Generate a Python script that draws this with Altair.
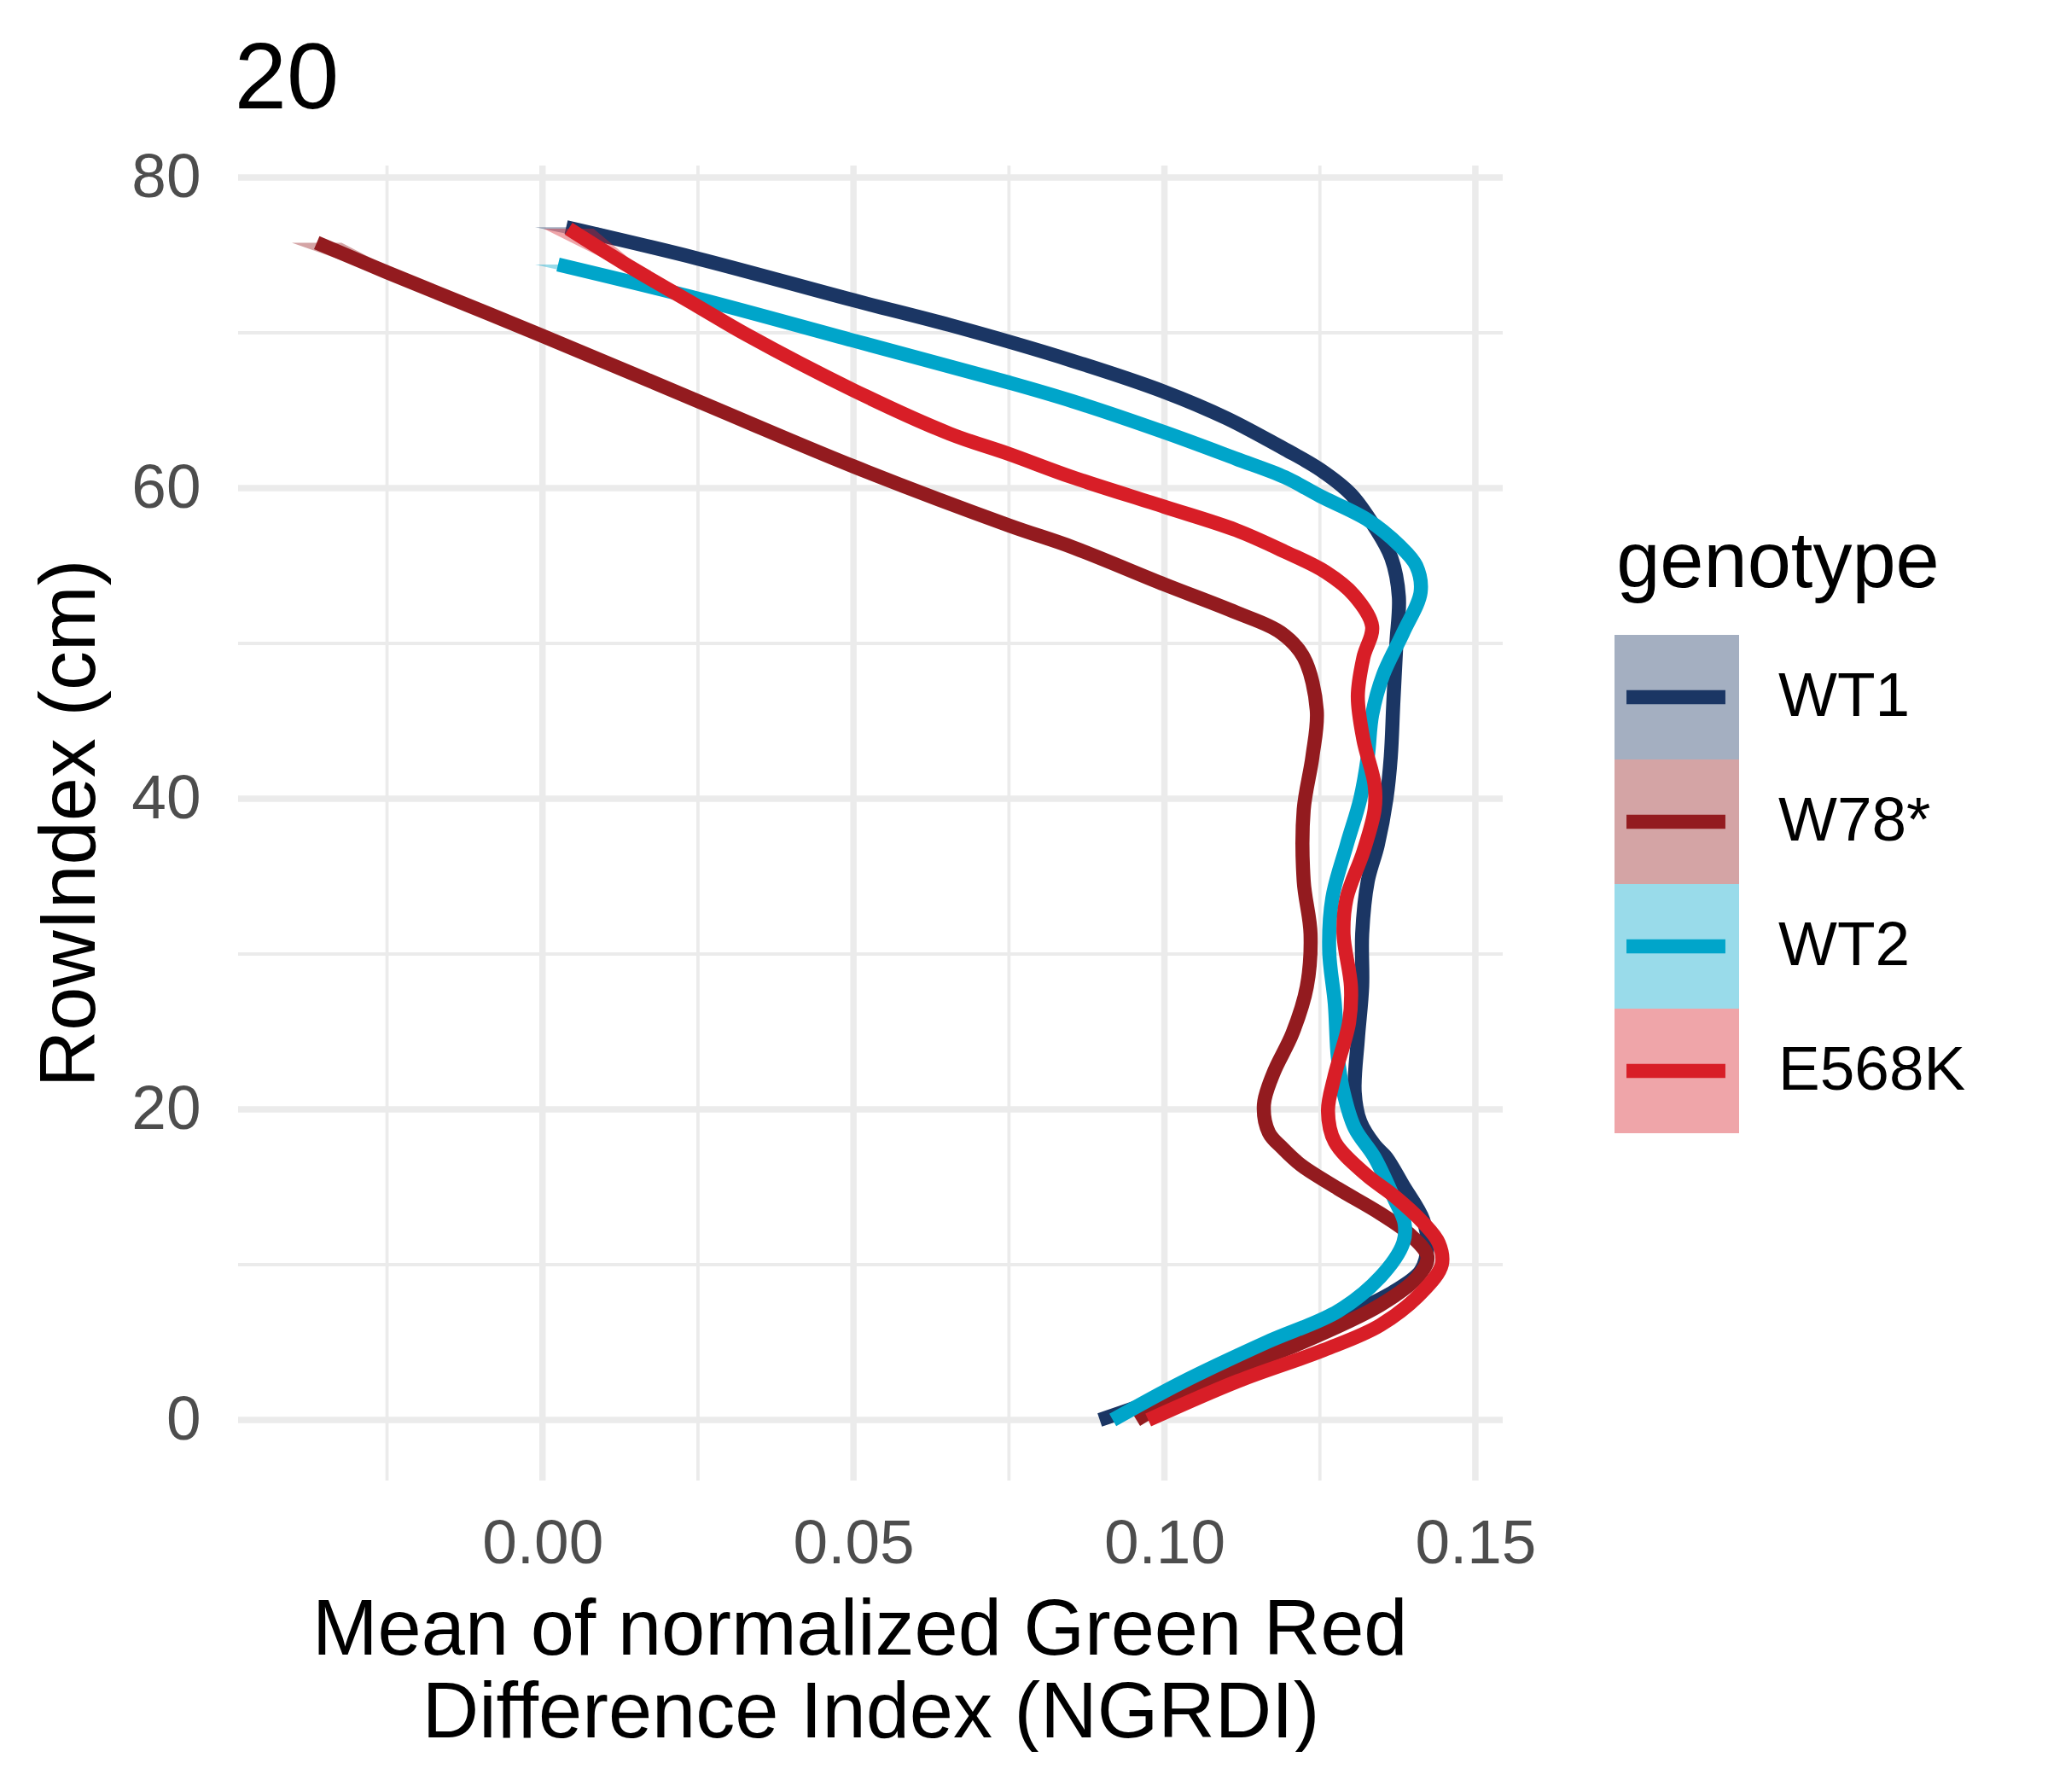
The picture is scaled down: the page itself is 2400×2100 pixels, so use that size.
import altair as alt
import pandas as pd

FONT = "Liberation Sans"

genotypes = ["WT1", "W78*", "WT2", "E568K"]
line_colors = ["#1B3664", "#931B1F", "#00A5CA", "#D81E27"]

# smoothed profiles (RowIndex in cm vs mean NGRDI), bottom to top
wt1_y = [0, 1.9, 4.5, 6.9, 8.3, 9.6, 11.2, 12.9, 15.1, 16.9, 17.7, 19.2, 21.1, 24.5, 27.9,
         31.3, 34.7, 37.0, 40.0, 42.7, 46.1, 50.0, 53.0, 55.5, 57.5, 59.6, 61.2, 62.5, 64.5,
         66.2, 68.2, 70.5, 72.1, 74.8, 76.8]
wt1_x = [0.0896, 0.1027, 0.1164, 0.1302, 0.1370, 0.1412, 0.1423, 0.1416, 0.1384, 0.1357,
         0.1338, 0.1315, 0.1306, 0.1311, 0.1318, 0.1318, 0.1327, 0.1343, 0.1357, 0.1364,
         0.1368, 0.1373, 0.1377, 0.1365, 0.1338, 0.1300, 0.1250, 0.1194, 0.1100, 0.1000,
         0.0852, 0.0655, 0.0500, 0.0248, 0.0038]

w78_y = [0, 2.7, 4.8, 7.4, 9.2, 10.5, 12.0, 13.3, 14.9, 16.4, 17.5, 18.5, 20.3, 22.3, 24.9,
         27.9, 31.3, 34.7, 39.3, 42.7, 45.7, 49.1, 50.7, 52.0, 53.8, 56.2, 57.6, 61.4, 65.6,
         69.8, 73.9, 75.8]
w78_x = [0.0955, 0.1075, 0.1210, 0.1347, 0.1407, 0.1423, 0.1393, 0.1347, 0.1279, 0.1220,
         0.1190, 0.1168, 0.1160, 0.1175, 0.1206, 0.1229, 0.1235, 0.1224, 0.1224, 0.1238,
         0.1245, 0.1224, 0.1187, 0.1115, 0.1000, 0.0852, 0.0750, 0.0500, 0.0250, 0.0000,
         -0.0250, -0.0363]

wt2_y = [0, 2.4, 5.0, 7.0, 9.2, 11.4, 12.7, 14.2, 16.9, 18.8, 21.1, 23.3, 26.8, 30.2, 33.6,
         37.0, 40.0, 42.7, 45.4, 48.0, 50.7, 53.3, 55.0, 56.3, 58.0, 59.5, 60.7, 61.9, 63.6,
         65.6, 66.8, 69.5, 72.2, 74.4]
wt2_x = [0.0917, 0.1027, 0.1164, 0.1279, 0.1347, 0.1384, 0.1386, 0.1370, 0.1338, 0.1306,
         0.1288, 0.1279, 0.1274, 0.1265, 0.1270, 0.1293, 0.1315, 0.1327, 0.1334, 0.1352,
         0.1384, 0.1412, 0.1405, 0.1378, 0.1325, 0.1250, 0.1194, 0.1115, 0.1000, 0.0852,
         0.0750, 0.0500, 0.0250, 0.0025]

e568k_y = [0, 2.5, 4.5, 6.1, 8.3, 10.0, 11.4, 12.7, 14.4, 15.8, 17.9, 19.9, 22.2, 25.6,
           27.9, 31.3, 33.6, 36.6, 39.3, 40.9, 43.8, 46.6, 49.1, 51.1, 53.1, 54.6, 55.9, 57.3,
           58.8, 60.7, 62.2, 63.5, 66.3, 69.9, 71.7, 74.5, 76.7]
e568k_x = [0.0974, 0.1118, 0.1256, 0.1347, 0.1416, 0.1446, 0.1441, 0.1416, 0.1370,
           0.1324, 0.1274, 0.1263, 0.1274, 0.1297, 0.1300, 0.1288, 0.1293, 0.1320, 0.1338,
           0.1338, 0.1320, 0.1311, 0.1320, 0.1334, 0.1305, 0.1259, 0.1194, 0.1115, 0.1000,
           0.0852, 0.0750, 0.0655, 0.0500, 0.0327, 0.0250, 0.0130, 0.0042]

# half-width of the confidence ribbon at the three topmost points (only visible there)
ribbon_se = {
    "WT1": [0.0008, 0.0018, 0.0050],
    "W78*": [0.0008, 0.0018, 0.0040],
    "WT2": [0.0008, 0.0015, 0.0037],
    "E568K": [0.0008, 0.0018, 0.0040],
}

series = {
    "WT1": (wt1_y, wt1_x),
    "W78*": (w78_y, w78_x),
    "WT2": (wt2_y, wt2_x),
    "E568K": (e568k_y, e568k_x),
}

x_major = [0.0, 0.05, 0.10, 0.15]
x_minor = [-0.025, 0.025, 0.075, 0.125]
y_major = [0, 20, 40, 60, 80]
y_minor = [10, 30, 50, 70]

W, H = 1482, 1541
x_scale = alt.Scale(domain=[-0.04895, 0.1544], nice=False, zero=False)
y_scale = alt.Scale(domain=[-3.9, 80.77], nice=False, zero=False)
color_scale = alt.Scale(domain=genotypes, range=line_colors)

x_axis = alt.Axis(values=x_major, format=".2f",
                  title=["Mean of normalized Green Red\u00a0\u200b", "Difference Index (NGRDI)"],
                  labelFontSize=73, titleFontSize=92, labelColor="#4D4D4D",
                  titleColor="black", labelFont=FONT, titleFont=FONT,
                  titleFontWeight="normal", labelPadding=38, titlePadding=19,
                  titleLineHeight=97, domain=False, ticks=False, grid=False)
y_axis = alt.Axis(values=y_major, format="d", title="RowIndex (cm)",
                  labelFontSize=73, titleFontSize=92, labelColor="#4D4D4D",
                  titleColor="black", labelFont=FONT, titleFont=FONT,
                  titleFontWeight="normal", labelPadding=44, titlePadding=24,
                  domain=False, ticks=False, grid=False)

GRID = "#EBEBEB"
layers = [
    alt.Chart(pd.DataFrame({"v": x_minor})).mark_rule(color=GRID, strokeWidth=3.8)
    .encode(x=alt.X("v:Q", scale=x_scale, axis=x_axis)),
    alt.Chart(pd.DataFrame({"v": y_minor})).mark_rule(color=GRID, strokeWidth=3.8)
    .encode(y=alt.Y("v:Q", scale=y_scale, axis=y_axis)),
    alt.Chart(pd.DataFrame({"v": x_major})).mark_rule(color=GRID, strokeWidth=7.5)
    .encode(x=alt.X("v:Q", scale=x_scale, axis=x_axis)),
    alt.Chart(pd.DataFrame({"v": y_major})).mark_rule(color=GRID, strokeWidth=7.5)
    .encode(y=alt.Y("v:Q", scale=y_scale, axis=y_axis)),
]

for g in genotypes:
    ys, xs = series[g]
    se = ribbon_se[g]
    rib = pd.DataFrame({
        "y": ys[-3:],
        "lo": [x - s for x, s in zip(xs[-3:], se)],
        "hi": [x + s for x, s in zip(xs[-3:], se)],
        "genotype": g,
    })
    layers.append(
        alt.Chart(rib).mark_area(orient="horizontal", opacity=0.4)
        .encode(y=alt.Y("y:Q", scale=y_scale, axis=y_axis),
                x=alt.X("lo:Q", scale=x_scale, axis=x_axis), x2="hi:Q",
                fill=alt.Fill("genotype:N", scale=color_scale, legend=None))
    )
    df = pd.DataFrame({"y": ys, "x": xs, "genotype": g})
    layers.append(
        alt.Chart(df).mark_line(strokeWidth=16.5, interpolate="catmull-rom", strokeCap="butt")
        .encode(y=alt.Y("y:Q", scale=y_scale, axis=y_axis),
                x=alt.X("x:Q", scale=x_scale, axis=x_axis),
                order=alt.Order("y:Q"),
                stroke=alt.Stroke("genotype:N", scale=color_scale, legend=None))
    )

main = alt.layer(*layers).properties(width=W, height=H)

# custom legend (key square with ribbon fill + line), units = key size
KEY = 146
LW = 420
leg_x = alt.Scale(domain=[0, LW / KEY], nice=False, zero=False)
leg_y = alt.Scale(domain=[-550 / KEY, (H - 550) / KEY], nice=False, zero=False, reverse=True)
leg_df = pd.DataFrame({"genotype": genotypes, "i": list(range(len(genotypes)))})

base = alt.Chart(leg_df).transform_calculate(i1="datum.i + 1", im="datum.i + 0.5")
leg_rect = base.mark_rect(opacity=0.4).encode(
    x=alt.X(datum=0, scale=leg_x, axis=None), x2=alt.X2(datum=1),
    y=alt.Y("i:Q", scale=leg_y, axis=None), y2="i1:Q",
    fill=alt.Fill("genotype:N", scale=color_scale, legend=None))
leg_line = base.mark_rule(strokeWidth=16.5).encode(
    x=alt.X(datum=0.096, scale=leg_x, axis=None), x2=alt.X2(datum=0.89),
    y=alt.Y("im:Q", scale=leg_y, axis=None),
    stroke=alt.Stroke("genotype:N", scale=color_scale, legend=None))
leg_text = base.mark_text(align="left", baseline="middle", fontSize=73, font=FONT,
                          color="black").encode(
    x=alt.X(datum=1.315, scale=leg_x, axis=None),
    y=alt.Y("im:Q", scale=leg_y, axis=None), text="genotype:N")
leg_title = alt.Chart(pd.DataFrame({"t": ["genotype"]})).mark_text(
    align="left", baseline="alphabetic", fontSize=92, font=FONT, color="black").encode(
    x=alt.X(datum=0.015, scale=leg_x, axis=None),
    y=alt.Y(datum=-0.384, scale=leg_y, axis=None), text="t:N")

legend = alt.layer(leg_rect, leg_line, leg_text, leg_title).properties(width=LW, height=H)

chart = alt.hconcat(main, legend, spacing=92).properties(
    title=alt.TitleParams("20", anchor="start", fontSize=110, font=FONT,
                          fontWeight="normal", color="black", dx=238, offset=22),
    padding={"left": 28, "top": 31, "right": 0, "bottom": 0},
    background="white",
).configure_view(stroke="transparent", strokeWidth=0)

chart.save("out.html", embed_options={"renderer": "svg", "actions": False})
